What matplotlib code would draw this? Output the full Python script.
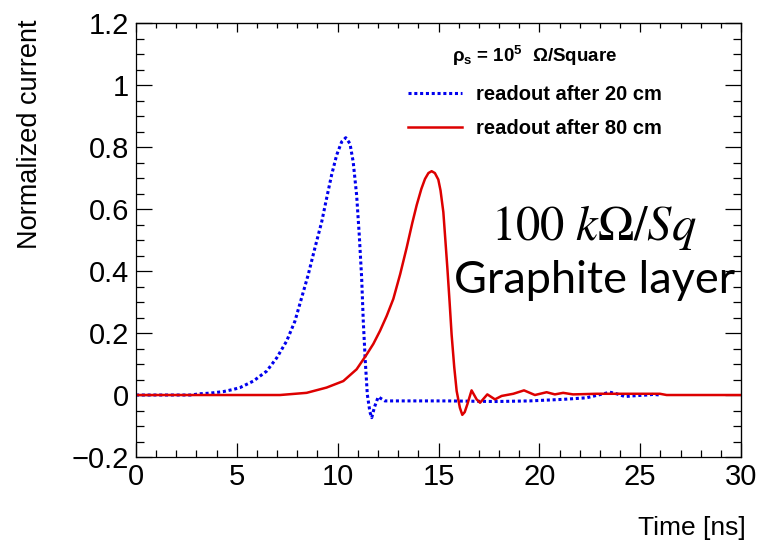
import matplotlib
matplotlib.use("Agg")
import matplotlib.pyplot as plt
from matplotlib.font_manager import FontProperties
from matplotlib.ticker import MultipleLocator

plt.rcParams["font.family"] = ["Liberation Sans", "DejaVu Sans"]
plt.rcParams["mathtext.fontset"] = "custom"
plt.rcParams["mathtext.rm"] = "Liberation Sans"
plt.rcParams["mathtext.bf"] = "Liberation Sans:bold"
plt.rcParams["mathtext.it"] = "Liberation Sans:italic"

# (time in ns, normalized current)
t_20cm = [0.0, 2.7, 3.17, 3.67, 4.33, 4.82, 5.16, 5.82, 6.48, 6.98, 7.47, 7.88,
          8.21, 8.54, 8.87, 9.21, 9.45, 9.70, 9.95, 10.2, 10.4, 10.61, 10.77,
          10.94, 11.07, 11.19, 11.27, 11.37, 11.47, 11.6, 11.69, 11.82, 12.01,
          12.34, 12.59, 13.09, 15.4, 17.88, 19.53, 21.18, 22.34, 22.92, 23.5,
          23.83, 24.24, 24.58, 25.32, 25.65, 25.98]
i_20cm = [0.0, 0.0, 0.004, 0.006, 0.011, 0.018, 0.024, 0.045, 0.077, 0.12,
          0.174, 0.238, 0.313, 0.388, 0.474, 0.559, 0.634, 0.71, 0.774, 0.817,
          0.83, 0.811, 0.752, 0.645, 0.517, 0.377, 0.238, 0.109, 0.002, -0.055,
          -0.073, -0.04, -0.006, -0.019, -0.019, -0.019, -0.019, -0.021,
          -0.019, -0.014, -0.009, 0.0, 0.009, 0.004, -0.005, -0.003, 0.0,
          0.002, 0.0]

t_80cm = [0.0, 7.14, 8.46, 9.45, 10.28, 10.94, 11.44, 11.77, 12.1, 12.43,
          12.76, 13.1, 13.42, 13.7, 13.92, 14.15, 14.33, 14.5, 14.66, 14.82,
          14.99, 15.1, 15.24, 15.34, 15.44, 15.55, 15.65, 15.78, 15.9, 16.06,
          16.18, 16.3, 16.43, 16.64, 16.89, 17.06, 17.42, 17.8, 18.13, 18.71,
          19.24, 19.78, 20.36, 20.77, 21.18, 21.67, 22.84, 25.98, 26.31, 30.0]
i_80cm = [0.0, 0.0, 0.007, 0.024, 0.045, 0.083, 0.131, 0.165, 0.207, 0.255,
          0.31, 0.39, 0.475, 0.555, 0.613, 0.665, 0.697, 0.716, 0.722, 0.716,
          0.695, 0.66, 0.59, 0.5, 0.409, 0.3, 0.195, 0.09, 0.013, -0.041,
          -0.064, -0.055, -0.03, 0.015, -0.014, -0.025, 0.002, -0.014, -0.003,
          0.004, 0.015, 0.0, 0.009, 0.002, 0.007, 0.002, 0.004, 0.004, 0.0,
          0.0]

labels = ["readout after 20 cm", "readout after 80 cm"]

fig = plt.figure(figsize=(7.58, 5.44), dpi=100)
ax = fig.add_axes([0.1794, 0.1599, 0.7982, 0.7978])

ax.plot(t_20cm, i_20cm, color="#0000ee", lw=2.2, linestyle=(0, (1, 0.9)),
        label=labels[0])
ax.plot(t_80cm, i_80cm, color="#dd0000", lw=1.8, label=labels[1])

ax.set_xlim(0, 30)
ax.set_ylim(-0.2, 1.2)
ax.xaxis.set_major_locator(MultipleLocator(5))
ax.xaxis.set_minor_locator(MultipleLocator(1))
ax.yaxis.set_major_locator(MultipleLocator(0.2))
ax.yaxis.set_minor_locator(MultipleLocator(0.05))
ax.yaxis.set_major_formatter(lambda v, p: f"{v:g}".replace("-", "\u2212"))

ax.tick_params(axis="y", which="major", direction="in", length=11.5, width=0.9,
               labelsize=21, pad=5)
ax.tick_params(axis="y", which="minor", direction="in", length=5.8, width=0.9)
ax.tick_params(axis="x", which="major", direction="in", length=10, width=0.9,
               labelsize=21, pad=4)
ax.tick_params(axis="x", which="minor", direction="in", length=5, width=0.9)
for sp in ax.spines.values():
    sp.set_linewidth(0.9)

# top / right axes carry shorter ticks, as in the original
top = ax.secondary_xaxis("top")
top.xaxis.set_major_locator(MultipleLocator(5))
top.xaxis.set_minor_locator(MultipleLocator(1))
top.tick_params(which="major", direction="in", length=6.5, width=0.9, labeltop=False)
top.tick_params(which="minor", direction="in", length=3.6, width=0.9)
right = ax.secondary_yaxis("right")
right.yaxis.set_major_locator(MultipleLocator(0.2))
right.yaxis.set_minor_locator(MultipleLocator(0.05))
right.tick_params(which="major", direction="in", length=11.5, width=0.9, labelright=False)
right.tick_params(which="minor", direction="in", length=5.8, width=0.9)

ax.set_xlabel("Time [ns]", fontsize=19, loc="right")
ax.xaxis.set_label_coords(1.007, -0.135)
ax.set_ylabel("Normalized current", fontsize=19.5, loc="top")
ax.yaxis.set_label_coords(-0.154, 1.007)

title_fp = FontProperties(family="Liberation Sans", weight="bold", size=13.5)
leg = ax.legend(loc="upper left", bbox_to_anchor=(0.449, 0.952), frameon=False,
                prop={"family": "Liberation Sans", "weight": "bold", "size": 14.5},
                title="ρ$_\\mathbf{s}$ = 10$^\\mathbf{5}$  Ω/Square",
                title_fontproperties=title_fp,
                handlelength=2.7, handletextpad=0.7, labelspacing=0.75,
                borderpad=0, borderaxespad=0)
leg._legend_box.sep = 12

ax.text(0.756, 0.50, r"$100\ k\Omega/Sq$", transform=ax.transAxes, fontsize=35,
        ha="center", va="baseline", math_fontfamily="stix")
ax.text(0.758, 0.378, "Graphite layer", transform=ax.transAxes, fontsize=32.5,
        family="Lato", ha="center", va="baseline")

fig.savefig("out.png", dpi=100)
